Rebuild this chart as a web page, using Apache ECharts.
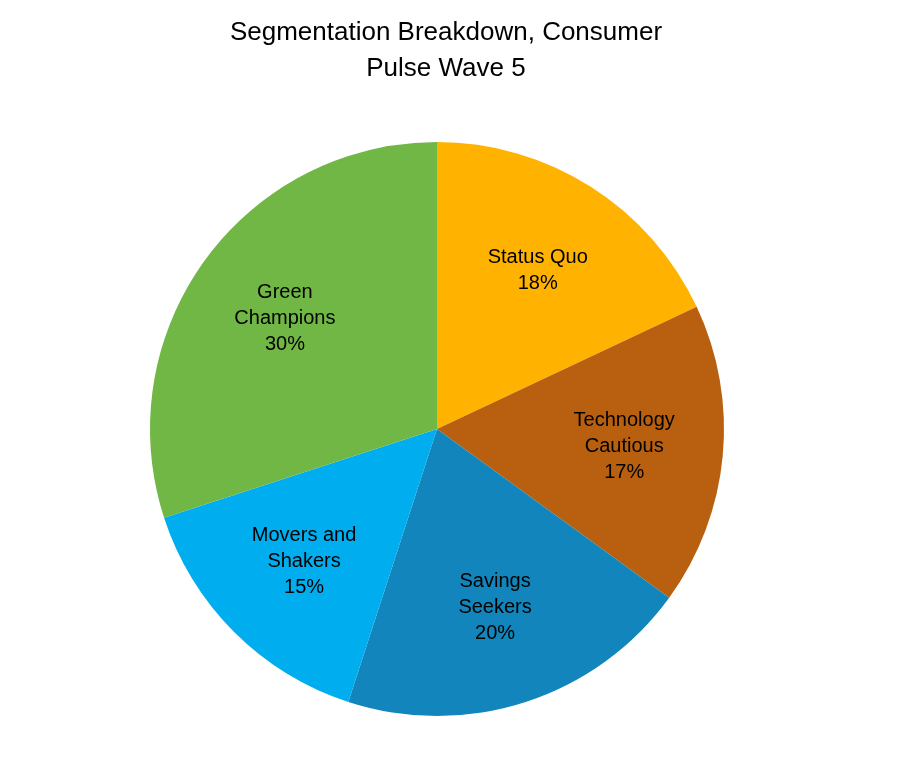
<!DOCTYPE html>
<html><head><meta charset="utf-8">
<script src="https://cdn.jsdelivr.net/npm/echarts@6/dist/echarts.min.js"></script>
<style>html,body{margin:0;padding:0;background:#fff}#c{width:920px;height:781px}</style>
</head><body><div id="c"></div>
<script>
const categories = ["Status Quo", "Technology\nCautious", "Savings\nSeekers", "Movers and\nShakers", "Green\nChampions"];
const values = [18, 17, 20, 15, 30];
const colors = ["#FFB300", "#B8600F", "#1185BC", "#00AEEF", "#70B746"];

const data = categories.map((n, i) => ({ name: n, value: values[i], itemStyle: { color: colors[i] } }));
const chart = echarts.init(document.getElementById('c'));
chart.setOption({
  animation: false,
  title: {
    text: "Segmentation Breakdown, Consumer\nPulse Wave 5",
    left: 441, top: 10, textAlign: 'center',
    textStyle: { fontFamily: 'Liberation Sans', fontSize: 26, fontWeight: 'normal', color: '#000', lineHeight: 36 }
  },
  series: [
    {
      type: 'pie', center: [437, 429], radius: [0, 287], startAngle: 90, clockwise: true,
      label: { show: false }, labelLine: { show: false }, silent: true,
      itemStyle: { borderWidth: 0 },
      data: data
    },
    {
      type: 'pie', center: [437, 429], radius: [0, 370], startAngle: 90, clockwise: true, silent: true,
      itemStyle: { color: 'rgba(0,0,0,0)', borderWidth: 0 },
      label: { show: true, position: 'inside', formatter: p => p.name + "\n" + p.value + "%",
        fontFamily: 'Liberation Sans', fontSize: 20, color: '#000', lineHeight: 26, align: 'center' },
      labelLine: { show: false },
      data: categories.map((n, i) => ({ name: n, value: values[i] }))
    }
  ]
});
</script></body></html>
